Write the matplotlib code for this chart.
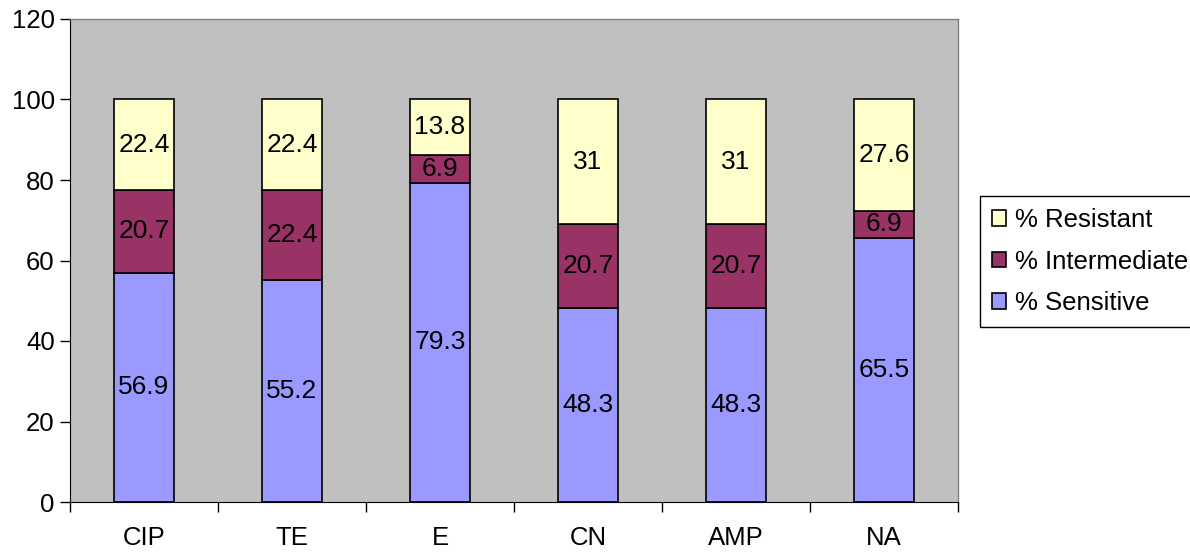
import matplotlib
matplotlib.use("Agg")
import matplotlib.pyplot as plt
import numpy as np

categories = ["CIP", "TE", "E", "CN", "AMP", "NA"]
sensitive = [56.9, 55.2, 79.3, 48.3, 48.3, 65.5]
intermediate = [20.7, 22.4, 6.9, 20.7, 20.7, 6.9]
resistant = [22.4, 22.4, 13.8, 31, 31, 27.6]
sens_labels = ["56.9", "55.2", "79.3", "48.3", "48.3", "65.5"]
int_labels = ["20.7", "22.4", "6.9", "20.7", "20.7", "6.9"]
res_labels = ["22.4", "22.4", "13.8", "31", "31", "27.6"]
yticks = [0, 20, 40, 60, 80, 100, 120]

plt.rcParams['font.family'] = ['Liberation Sans', 'DejaVu Sans']

fig = plt.figure(figsize=(11.9, 5.52), dpi=100)
ax = fig.add_axes([70/1190, 50/552, 888/1190, 483/552])
ax.set_facecolor('#C0C0C0')

x = np.arange(len(categories))
w = 0.405
s = np.array(sensitive); i = np.array(intermediate); r = np.array(resistant)
b1 = ax.bar(x, s, w, color='#9999FF', edgecolor='black', linewidth=1.2, label='% Sensitive')
b2 = ax.bar(x, i, w, bottom=s, color='#993366', edgecolor='black', linewidth=1.2, label='% Intermediate')
b3 = ax.bar(x, r, w, bottom=s + i, color='#FFFFCC', edgecolor='black', linewidth=1.2, label='% Resistant')

for bars, labs in [(b1, sens_labels), (b2, int_labels), (b3, res_labels)]:
    ax.bar_label(bars, labels=labs, label_type='center', fontsize=19, color='black')

ax.set_xlim(-0.5, len(categories) - 0.5)
ax.set_ylim(0, 120)
ax.set_yticks(yticks)
ax.set_yticklabels([str(v) for v in yticks], fontsize=18.5)
ax.tick_params(axis='y', length=7, width=1, pad=4)

ax.set_xticks(x)
ax.set_xticklabels(categories, fontsize=18.5)
ax.tick_params(axis='x', which='major', length=0, pad=17)
ax.set_xticks(np.arange(-0.5, len(categories)), minor=True)
ax.tick_params(axis='x', which='minor', length=7, width=1)

for side in ['top', 'right']:
    ax.spines[side].set_color('#808080')
    ax.spines[side].set_linewidth(1)
ax.spines['left'].set_color('black')
ax.spines['bottom'].set_color('black')

handles = [b3, b2, b1]
leg = fig.legend(handles=handles, labels=[h.get_label() for h in handles],
                 loc='upper left', bbox_to_anchor=(980/1190, 1 - 196/552),
                 fontsize=18.5, frameon=True, fancybox=False, edgecolor='black',
                 handlelength=0.55, handleheight=0.55, handletextpad=0.35,
                 borderpad=0.47, labelspacing=0.68, borderaxespad=0,
                 framealpha=1)
leg.get_frame().set_linewidth(1)

fig.savefig('out.png', dpi=100)
